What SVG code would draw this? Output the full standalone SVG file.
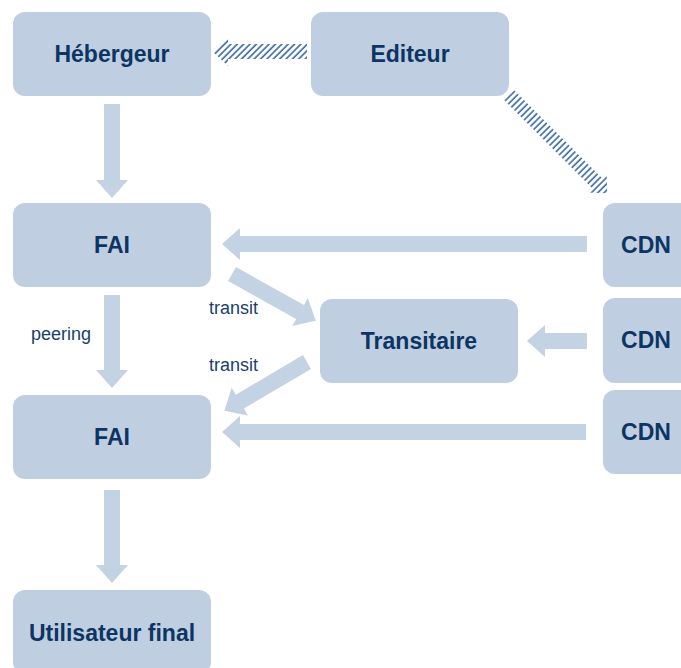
<svg xmlns="http://www.w3.org/2000/svg" width="681" height="668" viewBox="0 0 681 668">
<style>
.box{fill:#bfcee0}
.lbl{font-family:"Liberation Sans",Arial,sans-serif;font-weight:bold;font-size:23px;fill:#0d3564;text-anchor:middle}
.txt{font-family:"Liberation Sans",Arial,sans-serif;font-size:18px;fill:#1a3f6c}
.arr{fill:#c4d3e3}
.hatch{fill:url(#hp)}
</style>
<defs>
<pattern id="hp" patternUnits="userSpaceOnUse" width="4.5" height="4.5" patternTransform="rotate(45)">
<line x1="1" y1="0" x2="1" y2="4.5" stroke="#3a6aa6" stroke-width="1.6"/>
</pattern>
</defs>
<rect width="681" height="668" fill="#ffffff"/>
<g id="connectors">
<polygon class="arr" points="104,104 120,104 120,180 128,180 112,198 96,180 104,180"/>
<polygon class="arr" points="104,295 120,295 120,370 128,370 112,388 96,370 104,370"/>
<polygon class="arr" points="104,490 120,490 120,565 128,565 112,583 96,565 104,565"/>
<polygon class="arr" points="587,236 240,236 240,228 222,244 240,260 240,252 587,252"/>
<polygon class="arr" points="587,333 545,333 545,325 527,341 545,357 545,349 587,349"/>
<polygon class="arr" points="586,424 240,424 240,416 222,432 240,448 240,440 586,440"/>
<polygon class="arr" transform="translate(232,274) rotate(29.2)" points="0,-8 78,-8 78,-16 96,0 78,16 78,8 0,8"/>
<polygon class="arr" transform="translate(307,362) rotate(149.45)" points="0,-8 78,-8 78,-16 96,0 78,16 78,8 0,8"/>
<polygon class="hatch" points="307,44 228,44 228,38 213,52 228,66 228,59 307,59"/>
<polygon class="hatch" points="513.95,90.05 601.65,177.75 606.6,172.8 607.3,193.3 586.8,192.6 591.75,187.65 504.05,99.95"/>
<text class="txt" x="31" y="340">peering</text>
<text class="txt" x="209" y="314">transit</text>
<text class="txt" x="209" y="371">transit</text>
</g>
<g id="hebergeur"><rect class="box" x="13" y="12" width="198" height="84" rx="12"/><text class="lbl" x="112" y="62">Hébergeur</text></g>
<g id="editeur"><rect class="box" x="311" y="12" width="198" height="84" rx="12"/><text class="lbl" x="410" y="62">Editeur</text></g>
<g id="fai1"><rect class="box" x="13" y="203" width="198" height="84" rx="12"/><text class="lbl" x="112" y="253">FAI</text></g>
<g id="fai2"><rect class="box" x="13" y="395" width="198" height="84" rx="12"/><text class="lbl" x="112" y="445">FAI</text></g>
<g id="utilisateur"><rect class="box" x="13" y="590" width="198" height="84" rx="12"/><text class="lbl" x="112" y="641">Utilisateur final</text></g>
<g id="transitaire"><rect class="box" x="320" y="299" width="198" height="84" rx="12"/><text class="lbl" x="419" y="349">Transitaire</text></g>
<g id="cdn1"><rect class="box" x="603" y="203" width="198" height="84" rx="12"/><text class="lbl" x="646" y="253">CDN</text></g>
<g id="cdn2"><rect class="box" x="603" y="298" width="198" height="85" rx="12"/><text class="lbl" x="646" y="348">CDN</text></g>
<g id="cdn3"><rect class="box" x="603" y="390" width="198" height="84" rx="12"/><text class="lbl" x="646" y="440">CDN</text></g>
</svg>
